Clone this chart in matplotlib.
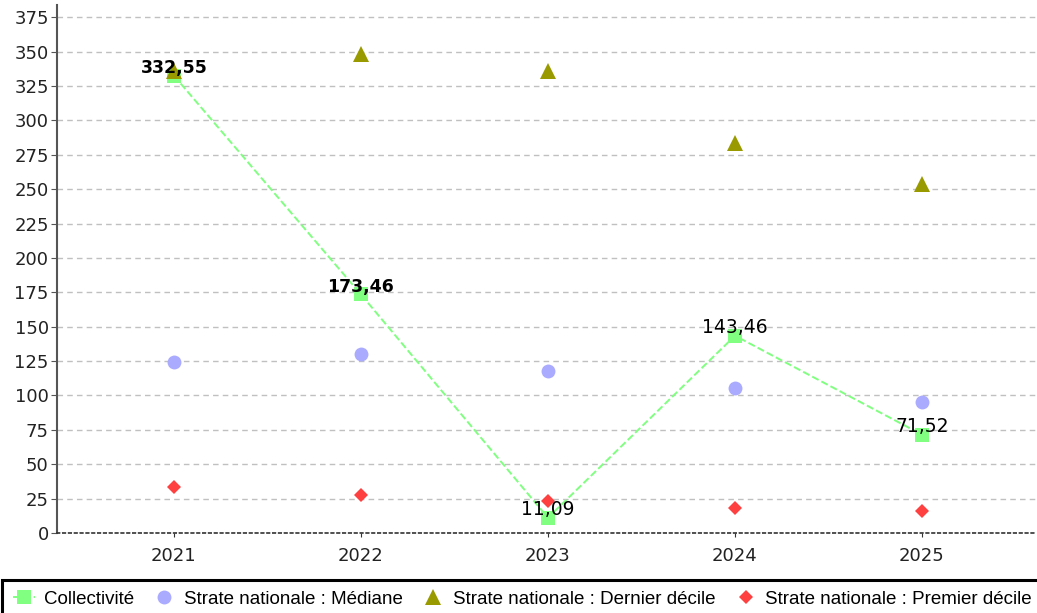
import matplotlib.pyplot as plt
from matplotlib.patches import Rectangle

years = ["2021", "2022", "2023", "2024", "2025"]
collectivite = [332.55, 173.46, 11.09, 143.46, 71.52]
mediane = [124.5, 130.0, 118.0, 105.5, 95.5]
dernier_decile = [336.0, 348.0, 336.0, 283.5, 253.5]
premier_decile = [33.5, 27.5, 23.5, 18.5, 16.0]
labels_txt = ["332,55", "173,46", "11,09", "143,46", "71,52"]
bold_labels = [True, True, False, False, False]

fig = plt.figure(figsize=(10.37, 6.13), dpi=100)
ax = fig.add_axes([0.055, 0.1305, 0.945, 0.8615])

x = list(range(len(years)))

ax.plot(x, collectivite, color="#80ff80", linestyle="--", linewidth=1.4,
        marker="s", markersize=10, markeredgewidth=0, label="Collectivité",
        zorder=3)
ax.plot(x, mediane, linestyle="none", marker="o", markersize=10,
        color="#aaaaff", markeredgewidth=0,
        label="Strate nationale : Médiane", zorder=4)
ax.plot(x, dernier_decile, linestyle="none", marker="^", markersize=11,
        color="#999900", markeredgewidth=0,
        label="Strate nationale : Dernier décile", zorder=4)
ax.plot(x, premier_decile, linestyle="none", marker="D", markersize=7.5,
        color="#ff4040", markeredgewidth=0,
        label="Strate nationale : Premier décile", zorder=4)

for i, v in enumerate(collectivite):
    ax.annotate(labels_txt[i], (x[i], v), xytext=(0, -1),
                textcoords="offset points", ha="center", va="bottom",
                fontsize=12.5 if bold_labels[i] else 13.5, color="black",
                zorder=6, fontweight="bold" if bold_labels[i] else "normal")

ax.set_xlim(-0.625, 4.615)
ax.set_ylim(0, 384)
ax.set_yticks(range(0, 376, 25))
ax.set_xticks(x)
ax.set_xticklabels(years)

ax.grid(axis="y", color="#c0c0c0", linestyle=(0, (4, 3)), linewidth=1)
ax.set_axisbelow(True)

for side in ["top", "right"]:
    ax.spines[side].set_visible(False)
ax.spines["left"].set_color("#555555")
ax.spines["left"].set_linewidth(1.5)
ax.spines["bottom"].set_color("#333333")
ax.spines["bottom"].set_linestyle((0, (1.5, 2)))
ax.spines["bottom"].set_linewidth(1.2)

ax.tick_params(axis="y", length=4, color="#555555", labelsize=13,
               labelcolor="#222222", pad=2)
ax.tick_params(axis="x", length=3, color="#333333", labelsize=13,
               labelcolor="#222222", pad=7)

fig.patches.append(Rectangle((2 / 1037, -0.05), 1.1, 0.104,
                             transform=fig.transFigure, fill=False,
                             edgecolor="black", linewidth=2.2,
                             clip_on=False))

fig.legend(loc="center left", bbox_to_anchor=(0.0085, 0.0225), ncol=4,
           frameon=False, prop={"family": "Liberation Sans", "size": 13.5},
           handlelength=1.2, handletextpad=0.45, columnspacing=1.02,
           borderaxespad=0, borderpad=0.2)

fig.savefig("out.png", dpi=100)
